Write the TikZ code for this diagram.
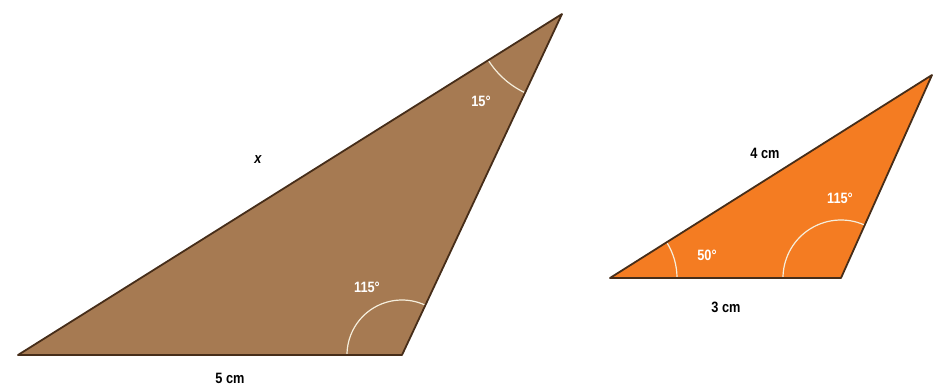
\documentclass[tikz,border=0pt]{standalone}
\usepackage{fontspec}
\setmainfont{Liberation Sans}[FakeStretch=0.85]
\usetikzlibrary{calc}
\definecolor{brownfill}{RGB}{166,122,82}
\definecolor{orangefill}{RGB}{244,124,34}
\definecolor{edgecol}{RGB}{70,45,25}
\definecolor{arccol}{RGB}{245,238,220}
\begin{document}
\begin{tikzpicture}[x=1pt,y=1pt,
  tri/.style={draw=edgecol,line width=1.8pt,line join=round},
  anglearc/.style={draw=arccol,line width=1.2pt},
  anglelbl/.style={text=white,font=\bfseries\fontsize{15}{15}\selectfont,inner sep=0pt},
  lenlbl/.style={text=black,font=\bfseries\fontsize{15}{15}\selectfont,inner sep=0pt}]
\useasboundingbox (0,0) rectangle (934,388);
% left triangle
\coordinate (A) at (18,33);
\coordinate (B) at (402,33);
\coordinate (C) at (562,374);
\fill[brownfill] (A) -- (B) -- (C) -- cycle;
\draw[anglearc] ($(B)+(65:55)$) arc[start angle=65,end angle=180,radius=55];
\draw[anglearc] ($(C)+(212:87)$) arc[start angle=212,end angle=245,radius=87];
\draw[tri] (A) -- (B) -- (C) -- cycle;
% right triangle
\coordinate (D) at (610,110);
\coordinate (E) at (841,110);
\coordinate (F) at (932,313);
\fill[orangefill] (D) -- (E) -- (F) -- cycle;
\draw[anglearc] ($(E)+(66:58)$) arc[start angle=66,end angle=180,radius=58];
\draw[anglearc] ($(D)+(0:67)$) arc[start angle=0,end angle=32.2,radius=67];
\draw[tri] (D) -- (E) -- (F) -- cycle;
% labels
\node[lenlbl,font=\bfseries\itshape\fontsize{15}{15}\selectfont] (lx) at (258,228) {x};
\node[lenlbl] (l5) at (230,10) {5 cm};
\node[anglelbl] (a115l) at (367,101) {115°};
\node[anglelbl] (a15) at (481,287) {15°};
\node[lenlbl] (l4) at (765,235) {4 cm};
\node[anglelbl] (a115r) at (840,190) {115°};
\node[anglelbl] (a50) at (707,133) {50°};
\node[lenlbl] (l3) at (726,81) {3 cm};
\end{tikzpicture}
\end{document}
